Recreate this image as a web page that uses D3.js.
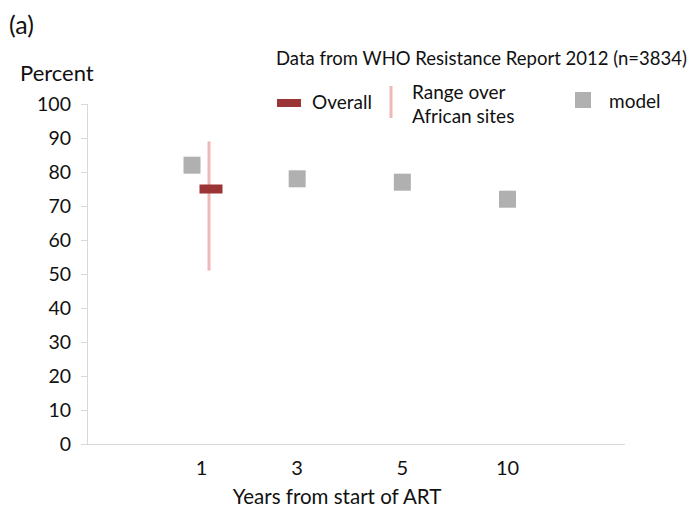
<!DOCTYPE html>
<html>
<head>
<meta charset="utf-8">
<script src="https://cdn.jsdelivr.net/npm/d3@7"></script>
<style>
  body { margin: 0; background: #fff; }
  svg text { font-family: Lato, "Open Sans", sans-serif; fill: #111; }
</style>
</head>
<body>
<svg id="chart" width="695" height="513"></svg>
<script>
// values
var years = ['1', '3', '5', '10'];
var model = [82, 78, 77, 72];
var overallYears = ['1'];
var overall = [75];
var rangeLow = [51];
var rangeHigh = [89];
var yTicks = [0, 10, 20, 30, 40, 50, 60, 70, 80, 90, 100];

var svg = d3.select('#chart');

// model position of each year; where WHO data exists it sits to the right
var x = d3.scalePoint()
  .domain(years)
  .range([192, 507.5]);
var pairGap = 19;

var y = d3.scaleLinear()
  .domain([0, 100])
  .range([444, 104]);

var axisColor = '#d9d9d9';
var modelColor = '#b0b0b0';
var overallColor = '#9b3434';
var rangeColor = '#f1b6b6';

function labelX(yr) {
  return overallYears.indexOf(yr) >= 0 ? x(yr) + pairGap / 2 : x(yr);
}

// y axis
var yAxis = svg.append('g')
  .attr('transform', 'translate(87,0)')
  .call(d3.axisLeft(y).tickValues(yTicks).tickSize(6).tickPadding(10));
yAxis.select('.domain').attr('stroke', axisColor).attr('d', 'M0.5,' + y(100) + 'V' + y(0));
yAxis.selectAll('.tick line').attr('stroke', axisColor);
yAxis.selectAll('.tick text')
  .style('font-size', '19.5px')
  .attr('fill', '#111');

// x axis
var xAxis = svg.append('g')
  .attr('transform', 'translate(0,' + y(0) + ')');
xAxis.append('path')
  .attr('d', 'M81,0.5H625')
  .attr('stroke', axisColor)
  .attr('fill', 'none');
xAxis.selectAll('text')
  .data(years)
  .enter().append('text')
  .attr('x', function(d){ return labelX(d); })
  .attr('y', 31)
  .attr('text-anchor', 'middle')
  .style('font-size', '20px')
  .text(function(d){ return d; });

// model squares
svg.append('g').selectAll('rect')
  .data(model)
  .enter().append('rect')
  .attr('x', function(d, i){ return x(years[i]) - 8.5; })
  .attr('y', function(d){ return y(d) - 8.5; })
  .attr('width', 17)
  .attr('height', 17)
  .attr('fill', modelColor);

// range over African sites
svg.append('g').selectAll('line')
  .data(rangeLow)
  .enter().append('line')
  .attr('x1', function(d, i){ return x(overallYears[i]) + pairGap - 2; })
  .attr('x2', function(d, i){ return x(overallYears[i]) + pairGap - 2; })
  .attr('y1', function(d){ return y(d); })
  .attr('y2', function(d, i){ return y(rangeHigh[i]); })
  .attr('stroke', rangeColor)
  .attr('stroke-width', 3);

// overall
svg.append('g').selectAll('rect')
  .data(overall)
  .enter().append('rect')
  .attr('x', function(d, i){ return x(overallYears[i]) + pairGap - 11.5; })
  .attr('y', function(d){ return y(d) - 4.5; })
  .attr('width', 23)
  .attr('height', 9)
  .attr('fill', overallColor);

// texts
svg.append('text').attr('x', 9).attr('y', 34).style('font-size', '25px').text('(a)');
svg.append('text').attr('x', 20).attr('y', 81).style('font-size', '22px').text('Percent');
svg.append('text').attr('x', 337).attr('y', 504).attr('text-anchor', 'middle')
  .style('font-size', '20.5px').text('Years from start of ART');
svg.append('text').attr('x', 276).attr('y', 65).style('font-size', '18.5px')
  .text('Data from WHO Resistance Report 2012 (n=3834)');

// legend
var legend = svg.append('g');
legend.append('rect').attr('x', 277).attr('y', 99).attr('width', 24).attr('height', 8).attr('fill', overallColor);
legend.append('text').attr('x', 312).attr('y', 109).style('font-size', '19px').text('Overall');
legend.append('line').attr('x1', 391).attr('x2', 391).attr('y1', 86).attr('y2', 118)
  .attr('stroke', rangeColor).attr('stroke-width', 3);
legend.append('text').attr('x', 412).attr('y', 99).style('font-size', '19px').text('Range over');
legend.append('text').attr('x', 412).attr('y', 123).style('font-size', '19px').text('African sites');
legend.append('rect').attr('x', 575).attr('y', 92).attr('width', 16).attr('height', 16).attr('fill', modelColor);
legend.append('text').attr('x', 609).attr('y', 108).style('font-size', '19px').text('model');
</script>
</body>
</html>
